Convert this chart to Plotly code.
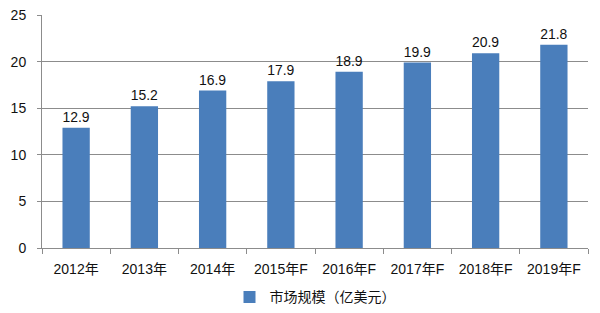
import plotly.graph_objects as go

categories = ["2012年", "2013年", "2014年", "2015年F", "2016年F", "2017年F", "2018年F", "2019年F"]
values = [12.9, 15.2, 16.9, 17.9, 18.9, 19.9, 20.9, 21.8]
series_name = "市场规模（亿美元）"

FONT = "Liberation Sans, Noto Sans CJK SC, sans-serif"

fig = go.Figure()
fig.add_trace(go.Bar(
    x=categories, y=values, name=series_name,
    marker=dict(color="#4a7ebb", line=dict(width=0)),
    width=0.4,
    text=[f"{v:.1f}" for v in values], textposition="outside",
    textfont=dict(size=14, color="#111111", family=FONT),
    cliponaxis=False,
    showlegend=True,
))

fig.update_layout(
    width=600, height=313,
    margin=dict(l=42, r=12, t=15, b=65),
    paper_bgcolor="white", plot_bgcolor="white",
    font=dict(family=FONT, size=14, color="#111111"),
    showlegend=True,
    legend=dict(orientation="h", x=0.5, xanchor="center", y=0.05, yanchor="middle",
                yref="container", font=dict(size=14, color="#111111"),
                itemwidth=30),
    xaxis=dict(showgrid=False, showline=True, linecolor="#8c8c8c", linewidth=1,
               ticks="outside", tickson="boundaries", ticklen=5, tickcolor="#8c8c8c",
               tickfont=dict(size=14), ticklabelstandoff=8, automargin=False),
    yaxis=dict(range=[0, 25], dtick=5, showgrid=True, gridcolor="#8c8c8c", gridwidth=1,
               showline=True, linecolor="#8c8c8c", ticks="outside", ticklen=4,
               tickcolor="#8c8c8c", zeroline=False, tickfont=dict(size=14),
               ticklabelstandoff=8, automargin=False),
    bargap=0.6,
)

fig.write_html("out.html")
